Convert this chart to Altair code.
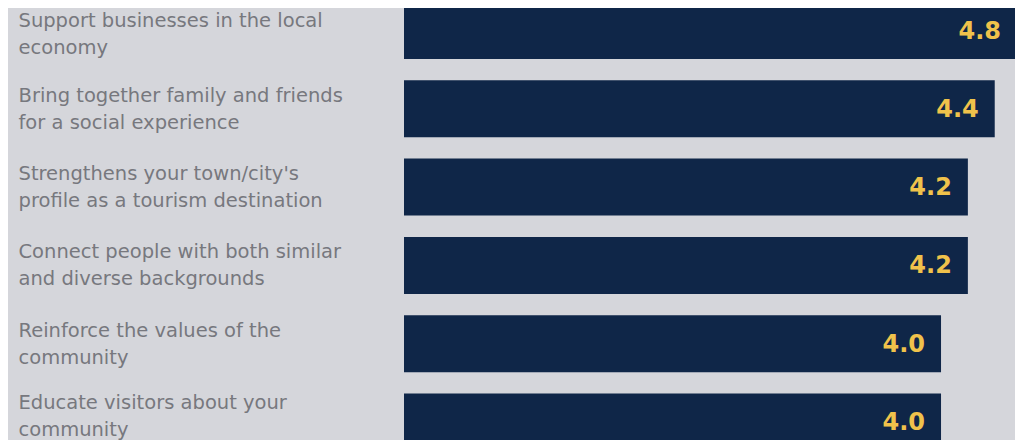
import altair as alt
import pandas as pd

label_lines = [
    ["Support businesses in the local", "economy"],
    ["Bring together family and friends", "for a social experience"],
    ["Strengthens your town/city's", "profile as a tourism destination"],
    ["Connect people with both similar", "and diverse backgrounds"],
    ["Reinforce the values of the", "community"],
    ["Educate visitors about your", "community"],
]
values = [4.8, 4.4, 4.2, 4.2, 4.0, 4.0]

labels = ["|".join(l) for l in label_lines]
df = pd.DataFrame({"label": labels, "value": values})

BG = "#d5d6db"
NAVY = "#0f2648"
GOLD = "#f0c24b"
GRAY = "#77787e"

y_enc = alt.Y(
    "label:N",
    sort=labels,
    title=None,
    scale=alt.Scale(paddingInner=0.272, paddingOuter=0, range=[-6, 442.5]),
    axis=alt.Axis(
        labelExpr="split(datum.label, '|')",
        labelAlign="left",
        labelBaseline="middle",
        labelPadding=386,
        labelOffset={
            "condition": [
                {"test": "indexof(datum.value, 'Support') == 0", "value": -10},
                {"test": "indexof(datum.value, 'Educate') == 0", "value": -19},
            ],
            "value": -13,
        },
        labelFontSize=19.5,
        labelFont="DejaVu Sans",
        labelColor=GRAY,
        labelLineHeight=27,
        labelLimit=400,
        ticks=False,
        tickSize=0,
        domain=False,
        grid=False,
    ),
)

x_scale = alt.Scale(domain=[0, 4.551], nice=False, zero=True)

bars = alt.Chart(df).mark_bar(color=NAVY, clip=True).encode(
    y=y_enc,
    x=alt.X("value:Q", scale=x_scale, axis=None),
)

text = (
    alt.Chart(df)
    .transform_calculate(lx="min(datum.value, 4.566)")
    .mark_text(
        align="right",
        baseline="middle",
        dx=-16,
        dy=1,
        font="DejaVu Sans",
        fontWeight="bold",
        fontSize=24,
        color=GOLD,
    )
    .encode(
        y=y_enc,
        x=alt.X("lx:Q", scale=x_scale, axis=None),
        text=alt.Text("value:Q", format=".1f"),
    )
)

chart = (
    alt.layer(bars, text)
    .properties(
        width=611,
        height=432,
        autosize=alt.AutoSizeParams(type="none"),
        padding={"left": 396, "top": 0, "right": 0, "bottom": 0},
        background=BG,
    )
    .configure_view(stroke=None)
)

chart.save("out.html", embed_options={"renderer": "svg", "actions": False})
